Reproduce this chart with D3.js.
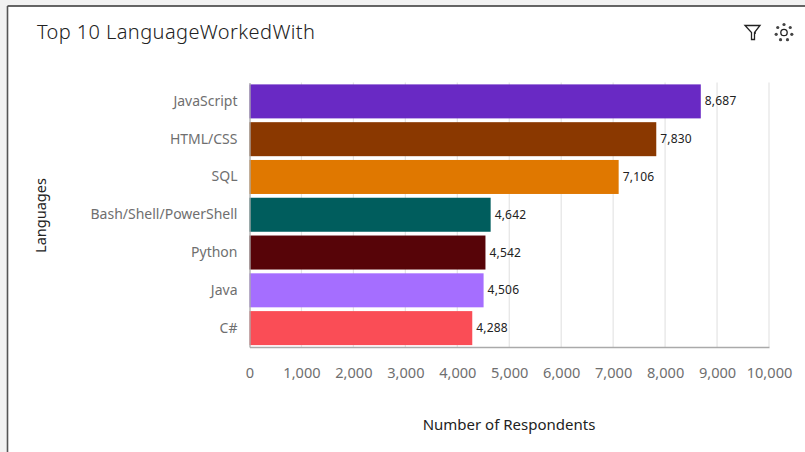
<!DOCTYPE html>
<html>
<head>
<meta charset="utf-8">
<script src="https://cdn.jsdelivr.net/npm/d3@7"></script>
<style>
  html, body { margin: 0; padding: 0; background: #fff; }
  text { font-family: "Noto Sans", "Open Sans", sans-serif; }
</style>
</head>
<body>
<div id="chart"></div>
<script>
const languages = ["JavaScript", "HTML/CSS", "SQL", "Bash/Shell/PowerShell", "Python", "Java", "C#"];
const respondents = [8687, 7830, 7106, 4642, 4542, 4506, 4288];
const barColors = ["#6929c4", "#8a3800", "#e07800", "#005d5d", "#570408", "#a56eff", "#fa4d56"];
const xTicks = [0, 1000, 2000, 3000, 4000, 5000, 6000, 7000, 8000, 9000, 10000];

const width = 805, height = 452;
const margin = { top: 82.5, right: 36, bottom: 105, left: 249.5 };
const innerWidth = width - margin.left - margin.right;
const innerHeight = height - margin.top - margin.bottom;

const svg = d3.select("#chart").append("svg")
    .attr("width", width)
    .attr("height", height)
    .style("display", "block");

// Screenshot frame around the card
svg.append("rect").attr("width", width).attr("height", 6).attr("fill", "#f2f2f2");
svg.append("rect").attr("width", 7).attr("height", height).attr("fill", "#f2f2f2");
svg.append("line").attr("x1", 7.5).attr("x2", width).attr("y1", 6).attr("y2", 6)
    .attr("stroke", "#333").attr("stroke-width", 1.4);
svg.append("line").attr("x1", 7.5).attr("x2", 7.5).attr("y1", 6).attr("y2", height)
    .attr("stroke", "#555").attr("stroke-width", 1.6);

svg.append("text")
    .attr("x", 37)
    .attr("y", 39)
    .style("font-size", "20px")
    .style("letter-spacing", "0.4px")
    .style("font-weight", 300)
    .attr("fill", "#222")
    .text("Top 10 LanguageWorkedWith");

// Toolbar icons
const icons = svg.append("g").attr("fill", "none").attr("stroke", "#222");
icons.append("path")
    .attr("d", "M745 25.5H760L754.5 32.5V39.5H751.5V32.5Z")
    .attr("stroke-width", 1.3);
icons.append("circle").attr("cx", 755).attr("cy", 33).attr("r", 1).attr("fill", "#222").attr("stroke", "none");
icons.append("circle").attr("cx", 784).attr("cy", 32.5).attr("r", 3.2).attr("stroke-width", 1.3);
d3.range(7).forEach(i => {
    const a = i * 2 * Math.PI / 7 - Math.PI / 2;
    icons.append("circle")
        .attr("cx", 784 + 8 * Math.cos(a))
        .attr("cy", 32.5 + 8 * Math.sin(a))
        .attr("r", 1.6)
        .attr("fill", "#444")
        .attr("stroke", "none");
});

const g = svg.append("g").attr("transform", `translate(${margin.left},${margin.top})`);

const x = d3.scaleLinear().domain([0, 10000]).range([0, innerWidth]);
const y = d3.scaleBand().domain(languages).range([0, innerHeight]).paddingInner(0.1).paddingOuter(0.05);

// Grid
g.append("g")
    .selectAll("line")
    .data(xTicks.slice(1))
    .join("line")
    .attr("x1", d => x(d))
    .attr("x2", d => x(d))
    .attr("y1", 0)
    .attr("y2", innerHeight)
    .attr("stroke", "#e4e4e4")
    .attr("stroke-width", 1.2);

// Bars
g.append("g")
    .selectAll("rect")
    .data(languages)
    .join("rect")
    .attr("x", 0)
    .attr("y", d => y(d))
    .attr("width", (d, i) => x(respondents[i]))
    .attr("height", y.bandwidth())
    .attr("fill", (d, i) => barColors[i]);

// Value labels
g.append("g")
    .selectAll("text")
    .data(languages)
    .join("text")
    .attr("x", (d, i) => x(respondents[i]) + 4)
    .attr("y", d => y(d) + y.bandwidth() / 2 + 4)
    .style("font-size", "12px")
    .style("letter-spacing", "0.2px")
    .attr("fill", "#222")
    .text((d, i) => d3.format(",")(respondents[i]));

// Axes
const xAxis = d3.axisBottom(x).tickValues(xTicks).tickFormat(d3.format(",")).tickSize(0).tickPadding(21);
const yAxis = d3.axisLeft(y).tickSize(0).tickPadding(12);

const xAxisG = g.append("g").attr("transform", `translate(0,${innerHeight})`).call(xAxis);
const yAxisG = g.append("g").call(yAxis);

xAxisG.select(".domain").attr("stroke", "#aaa").attr("stroke-width", 1.3);
yAxisG.select(".domain").attr("stroke", "#aaa").attr("stroke-width", 1.3);
xAxisG.selectAll("text").style("font-size", "14.6px").attr("fill", "#6f6f6f");
yAxisG.selectAll("text").style("font-size", "14px").attr("fill", "#6f6f6f");

// Axis titles
svg.append("text")
    .attr("x", 509)
    .attr("y", 430)
    .attr("text-anchor", "middle")
    .style("font-size", "15px")
    .attr("fill", "#222")
    .text("Number of Respondents");

svg.append("text")
    .attr("transform", "translate(46,215.5) rotate(-90)")
    .attr("text-anchor", "middle")
    .style("font-size", "14.5px")
    .attr("fill", "#222")
    .text("Languages");
</script>
</body>
</html>
